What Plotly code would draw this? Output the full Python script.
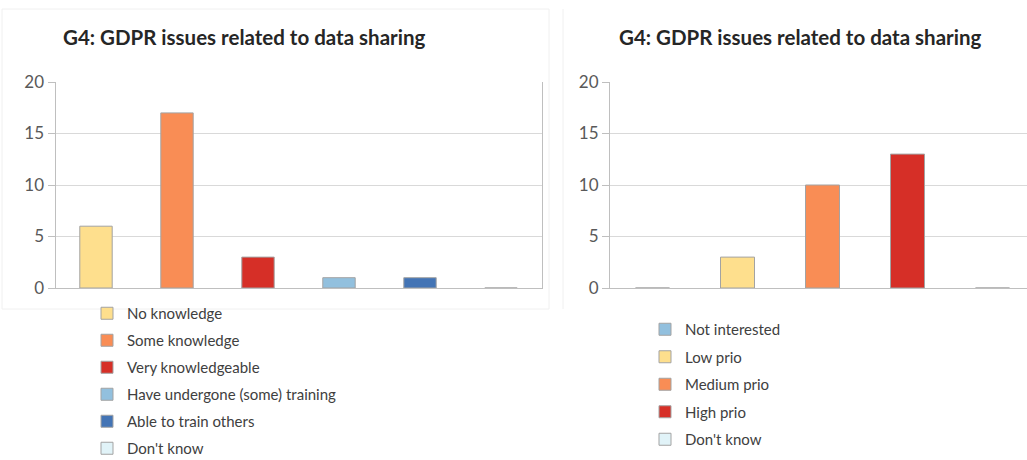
import plotly.graph_objects as go

title_text = "G4: GDPR issues related to data sharing"

left_categories = ["No knowledge", "Some knowledge", "Very knowledgeable",
                   "Have undergone (some) training", "Able to train others", "Don't know"]
left_values = [6, 17, 3, 1, 1, 0]
left_colors = ["#FEDF8D", "#F98D55", "#D62F27", "#92C0DE", "#4374B5", "#E1F3F8"]

right_categories = ["Not interested", "Low prio", "Medium prio", "High prio", "Don't know"]
right_values = [0, 3, 10, 13, 0]
right_colors = ["#92C0DE", "#FEDF8D", "#F98D55", "#D62F27", "#E1F3F8"]

y_ticks = [0, 5, 10, 15, 20]

FONT = "Lato, 'Open Sans', sans-serif"
W, H = 1027, 460

fig = go.Figure()

for i, (c, v, col) in enumerate(zip(left_categories, left_values, left_colors)):
    fig.add_trace(go.Bar(
        x=[c], y=[v], name=c, marker=dict(color=col, line=dict(color="#A3A3A3", width=1)),
        xaxis="x", yaxis="y", legend="legend", legendgroup="L%d" % i,
    ))

for i, (c, v, col) in enumerate(zip(right_categories, right_values, right_colors)):
    fig.add_trace(go.Bar(
        x=[c], y=[v], name=c, marker=dict(color=col, line=dict(color="#A3A3A3", width=1)),
        xaxis="x2", yaxis="y2", legend="legend2", legendgroup="R%d" % i,
    ))

ydom = [1 - 288 / H, 1 - 82 / H]

yaxis_common = dict(
    range=[0, 20], tickvals=y_ticks, showgrid=True, gridcolor="#D9D9D9", gridwidth=1,
    showline=True, linecolor="#BFBFBF", linewidth=1, ticks="outside", ticklen=7,
    tickcolor="#BFBFBF", tickfont=dict(family=FONT, size=17, color="#595959"),
    zeroline=False, fixedrange=True,
)
xaxis_common = dict(
    showticklabels=False, showgrid=False, showline=True, linecolor="#BFBFBF",
    linewidth=1, ticks="", zeroline=False, fixedrange=True,
)

fig.update_layout(
    width=W, height=H, margin=dict(l=0, r=0, t=0, b=0, autoexpand=False),
    paper_bgcolor="white", plot_bgcolor="white",
    barmode="overlay", bargap=0.6,
    font=dict(family=FONT, color="#404040"),
    xaxis=dict(domain=[55.5 / W, 541.5 / W], type="category",
               categoryorder="array", categoryarray=left_categories,
               range=[-0.5, len(left_categories) - 0.5], anchor="y", **xaxis_common),
    yaxis=dict(domain=ydom, anchor="x", mirror=True, **yaxis_common),
    xaxis2=dict(domain=[610 / W, 1.0], type="category",
                categoryorder="array", categoryarray=right_categories,
                range=[-0.5, -0.5 + (W - 610) / 85.0], anchor="y2", **xaxis_common),
    yaxis2=dict(domain=ydom, anchor="x2", **yaxis_common),
    legend=dict(x=87 / W, y=1 - 297 / H, xanchor="left", yanchor="top",
                font=dict(family=FONT, size=15, color="#404040"),
                tracegroupgap=4.5, bgcolor="rgba(0,0,0,0)", itemclick=False),
    legend2=dict(x=645 / W, y=1 - 313 / H, xanchor="left", yanchor="top",
                 font=dict(family=FONT, size=15, color="#404040"),
                 tracegroupgap=5, bgcolor="rgba(0,0,0,0)", itemclick=False),
    annotations=[
        dict(text="<b>%s</b>" % title_text, x=61 / W, y=1 - 37 / H, xref="paper", yref="paper",
             xanchor="left", yanchor="middle", showarrow=False,
             font=dict(family=FONT, size=20.5, color="#262626")),
        dict(text="<b>%s</b>" % title_text, x=800 / W, y=1 - 37 / H, xref="paper", yref="paper",
             xanchor="center", yanchor="middle", showarrow=False,
             font=dict(family=FONT, size=20.5, color="#262626")),
    ],
    shapes=[
        dict(type="rect", xref="paper", yref="paper", x0=2 / W, x1=549 / W,
             y0=1 - 309 / H, y1=1 - 9 / H, line=dict(color="#F0F0F0", width=1)),
        dict(type="line", xref="paper", yref="paper", x0=563 / W, x1=563 / W,
             y0=1 - 309 / H, y1=1 - 9 / H, line=dict(color="#F0F0F0", width=1)),
    ],
)

fig.write_html("out.html", config={"displayModeBar": False},
               post_script="document.body.style.margin='0';document.body.style.overflow='hidden';")
